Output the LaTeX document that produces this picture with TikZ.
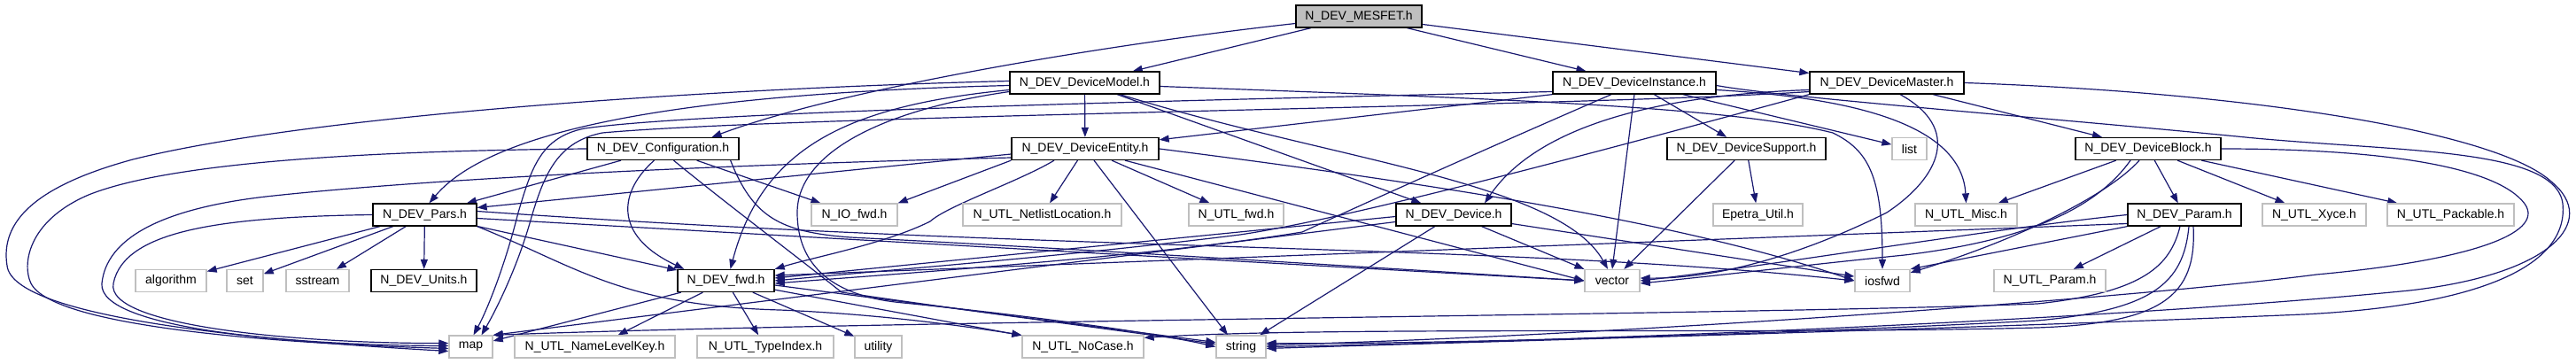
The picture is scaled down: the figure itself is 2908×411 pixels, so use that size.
\documentclass[tikz,border=0pt]{standalone}
\usepackage{fontspec}
\setmainfont{Liberation Sans}
\usetikzlibrary{arrows.meta}
\definecolor{edgeblue}{HTML}{191970}
\definecolor{extgray}{HTML}{BFBFBF}
\definecolor{rootfill}{HTML}{BFBFBF}
\pgfdeclarelayer{bglayer}
\pgfdeclarelayer{edgelayer}
\pgfsetlayers{bglayer,edgelayer,main}
\begin{document}
\begin{tikzpicture}[x=1pt,y=-1pt,
  box/.style={rectangle, line width=1.3pt, fill=white, minimum height=25pt, inner sep=0pt, font=\fontsize{14pt}{16pt}\selectfont, text=black},
  intbox/.style={box, draw=black},
  extbox/.style={box, draw=extgray},
  rootbox/.style={box, draw=black, fill=rootfill},
  dep/.style={draw=edgeblue, line width=1.2pt, -{Triangle[length=11pt,width=8pt]}}]
\begin{pgfonlayer}{bglayer}
\fill[white] (0,0) rectangle (2908,411);
\end{pgfonlayer}
\useasboundingbox (0,0) rectangle (2908,411);

% nodes
\node[rootbox, minimum width=142pt] (mesfet) at (1534,18.5) {N\_DEV\_MESFET.h};
\node[intbox, minimum width=169pt] (model) at (1224.5,93.5) {N\_DEV\_DeviceModel.h};
\node[intbox, minimum width=184pt] (inst) at (1845,93.5) {N\_DEV\_DeviceInstance.h};
\node[intbox, minimum width=174pt] (master) at (2130,93.5) {N\_DEV\_DeviceMaster.h};
\node[intbox, minimum width=171pt] (config) at (748.5,168) {N\_DEV\_Configuration.h};
\node[intbox, minimum width=166pt] (entity) at (1225,168) {N\_DEV\_DeviceEntity.h};
\node[intbox, minimum width=179pt] (support) at (1971.5,168) {N\_DEV\_DeviceSupport.h};
\node[extbox, minimum width=39pt] (list) at (2155.5,168) {list};
\node[intbox, minimum width=164pt] (block) at (2425,168) {N\_DEV\_DeviceBlock.h};
\node[intbox, minimum width=117pt] (pars) at (479.5,242.5) {N\_DEV\_Pars.h};
\node[extbox, minimum width=97pt] (iofwd) at (964.5,242.5) {N\_IO\_fwd.h};
\node[extbox, minimum width=179pt] (netlist) at (1176.5,242.5) {N\_UTL\_NetlistLocation.h};
\node[extbox, minimum width=107pt] (utlfwd) at (1395.5,242.5) {N\_UTL\_fwd.h};
\node[intbox, minimum width=130pt] (device) at (1641,242.5) {N\_DEV\_Device.h};
\node[extbox, minimum width=101pt] (epetra) at (1984.5,242.5) {Epetra\_Util.h};
\node[extbox, minimum width=115pt] (misc) at (2219.5,242.5) {N\_UTL\_Misc.h};
\node[intbox, minimum width=128pt] (param) at (2466,242.5) {N\_DEV\_Param.h};
\node[extbox, minimum width=117pt] (xyce) at (2612.5,242.5) {N\_UTL\_Xyce.h};
\node[extbox, minimum width=143pt] (packable) at (2766.5,242.5) {N\_UTL\_Packable.h};
\node[extbox, minimum width=80pt] (algorithm) at (193,317) {algorithm};
\node[extbox, minimum width=41pt] (set) at (276.5,317) {set};
\node[extbox, minimum width=71pt] (sstream) at (358.5,317) {sstream};
\node[intbox, minimum width=119pt] (units) at (478.5,317) {N\_DEV\_Units.h};
\node[intbox, minimum width=109pt] (devfwd) at (819.5,317) {N\_DEV\_fwd.h};
\node[extbox, minimum width=62pt] (vector) at (1820,317) {vector};
\node[extbox, minimum width=62pt] (iosfwd) at (2125,317) {iosfwd};
\node[extbox, minimum width=126pt] (utlparam) at (2314,317) {N\_UTL\_Param.h};
\node[extbox, minimum width=49pt] (map) at (531.5,391.5) {map};
\node[extbox, minimum width=181pt] (namelevel) at (671.5,391.5) {N\_UTL\_NameLevelKey.h};
\node[extbox, minimum width=154pt] (typeindex) at (864,391.5) {N\_UTL\_TypeIndex.h};
\node[extbox, minimum width=53pt] (utility) at (991.5,391.5) {utility};
\node[extbox, minimum width=137pt] (nocase) at (1222.5,391.5) {N\_UTL\_NoCase.h};
\node[extbox, minimum width=56pt] (string) at (1401,391.5) {string};

\begin{pgfonlayer}{edgelayer}
% MESFET
\draw[dep] ([yshift=-8pt]mesfet.west) .. controls (1250,50) and (950,100) .. ([xshift=55pt]config.north);
\draw[dep] (mesfet) -- (model);
\draw[dep] (mesfet) -- (inst);
\draw[dep] (mesfet) -- (master);
% DeviceModel
\draw[dep] (model) -- (entity);
\draw[dep] ([yshift=-3pt]model.west) .. controls (800,105) and (560,140) .. ([xshift=5pt]pars.north);
\draw[dep] ([yshift=2pt]model.west) .. controls (800,100) and (350,130) .. (150,180) .. controls (40,210) and (0,250) .. (8,300) .. controls (15,360) and (300,385) .. ([yshift=-5pt]map.west);
\draw[dep] ([yshift=-8pt]model.west) .. controls (950,120) and (860,170) .. ([xshift=5pt]devfwd.north);
\draw[dep] (model) -- (device);
\draw[dep] ([xshift=40pt]model.south) .. controls (1500,180) and (1760,205) .. ([xshift=-5pt]vector.north);
\draw[dep] ([yshift=-4pt]model.east) .. controls (1700,112) and (1950,120) .. (2069,150) .. controls (2110,170) and (2125,200) .. (iosfwd.north);
\draw[dep] ([yshift=-10pt]model.west) .. controls (990,125) and (900,175) .. (900,240) .. controls (900,300) and (940,335) .. (1020,342) .. controls (1150,355) and (1300,375) .. (string.west);
% DeviceInstance
\draw[dep] (inst.south west) -- ([yshift=-3pt]entity.north east);
\draw[dep] (inst) -- (support);
\draw[dep] (inst) -- (list);
\draw[dep] (inst.south) -- (vector.north);
\draw[dep] ([xshift=-26pt]inst.south) .. controls (1650,180) and (1540,230) .. (1470,262) .. controls (1300,290) and (1000,310) .. ([yshift=-3pt]devfwd.east);
\draw[dep] ([yshift=-10pt]inst.west) .. controls (1400,112) and (800,125) .. (660,145) .. controls (610,155) and (600,190) .. (585,240) .. controls (570,300) and (550,350) .. ([xshift=3pt]map.north);
\draw[dep] ([yshift=-8pt]inst.east) .. controls (2120,112) and (2215,150) .. (misc.north);
\draw[dep] ([yshift=-3pt]inst.east) .. controls (2010,110) and (2300,132) .. (2525,154) .. controls (2700,172) and (2885,165) .. (2893,230) .. controls (2900,300) and (2800,345) .. (2600,355) .. controls (2200,372) and (1700,385) .. ([yshift=-2pt]string.east);
% DeviceMaster
\draw[dep] (master) -- (block);
\draw[dep] ([yshift=-8pt]master.west) .. controls (1850,108) and (1730,150) .. ([xshift=35pt]device.north);
\draw[dep] (master.south west) .. controls (1700,200) and (1500,250) .. (1400,265) .. controls (1200,290) and (1000,305) .. (devfwd.east);
\draw[dep] ([yshift=-10pt]master.west) .. controls (1800,120) and (900,130) .. (680,150) .. controls (630,160) and (615,195) .. (600,245) .. controls (585,300) and (560,350) .. ([xshift=12pt]map.north);
\draw[dep] ([xshift=15pt]master.south) .. controls (2215,145) and (2190,200) .. (2130,240) .. controls (2050,280) and (1950,315) .. ([yshift=3pt]vector.east);
\draw[dep] (master.east) .. controls (2550,105) and (2820,150) .. (2880,205) .. controls (2935,250) and (2880,310) .. (2720,328) .. controls (2400,360) and (1800,385) .. (string.east);
% Configuration
\draw[dep] (config.west) .. controls (450,170) and (200,180) .. (100,220) .. controls (30,250) and (25,300) .. (35,320) .. controls (60,370) and (320,388) .. ([yshift=-2pt]map.west);
\draw[dep] (config) -- (pars);
\draw[dep] ([xshift=-10pt]config.south) .. controls (700,215) and (690,265) .. ([xshift=8pt]devfwd.north west);
\draw[dep] ([xshift=12pt]config.south) .. controls (820,230) and (900,290) .. (950,330) .. controls (1100,352) and (1300,378) .. ([yshift=3pt]string.west);
\draw[dep] ([xshift=-10pt]config.south east) .. controls (850,245) and (880,262) .. (960,268) .. controls (1200,280) and (1600,305) .. (vector.west);
\draw[dep] (config) -- (iofwd);
% DeviceEntity
\draw[dep] ([yshift=-6pt]entity.west) -- ([yshift=8pt]pars.east);
\draw[dep] ([yshift=-10pt]entity.west) .. controls (850,185) and (500,200) .. (300,222) .. controls (180,236) and (120,270) .. (115,320) .. controls (110,372) and (340,390) .. ([yshift=1pt]map.west);
\draw[dep] ([xshift=-35pt]entity.south) .. controls (1150,205) and (1070,232) .. (1050,250) .. controls (1000,275) and (920,290) .. (devfwd.north east);
\draw[dep] (entity.south west) -- (iofwd.north east);
\draw[dep] (entity) -- (netlist);
\draw[dep] (entity) -- (utlfwd);
\draw[dep] ([xshift=10pt]entity.south) -- ([xshift=-15pt]string.north);
\draw[dep] ([xshift=45pt]entity.south) -- (vector.west);
\draw[dep] (entity.east) .. controls (1600,205) and (1900,250) .. (iosfwd.west);
% Pars
\draw[dep] (pars.west) .. controls (250,245) and (140,260) .. (128,320) .. controls (118,370) and (350,388) .. ([yshift=4pt]map.west);
\draw[dep] (pars) -- (algorithm);
\draw[dep] (pars) -- (set);
\draw[dep] (pars) -- (sstream);
\draw[dep] (pars) -- (units);
\draw[dep] (pars) -- (devfwd);
\draw[dep] ([yshift=-4pt]pars.east) -- (vector.west);
\draw[dep] ([yshift=4pt]pars.east) .. controls (1200,285) and (1700,275) .. (iosfwd.west);
\draw[dep] (pars.south east) .. controls (650,300) and (700,345) .. (880,350) .. controls (1000,355) and (1100,370) .. (nocase.north west);
% Device
\draw[dep] ([yshift=-8pt]device.west) -- (map.north east);
\draw[dep] ([yshift=-2pt]device.west) -- ([yshift=3pt]devfwd.east);
\draw[dep] (device) -- (string);
\draw[dep] (device) -- (vector);
\draw[dep] (device) -- (iosfwd);
% DeviceSupport
\draw[dep] (support) -- (epetra);
\draw[dep] (support) -- (vector);
% DeviceBlock
\draw[dep] (block) -- (misc);
\draw[dep] (block) -- (param);
\draw[dep] (block) -- (xyce);
\draw[dep] (block) -- (packable);
\draw[dep] (block.east) .. controls (2700,168) and (2820,190) .. (2850,230) .. controls (2875,265) and (2780,295) .. (2615,310) .. controls (2400,338) and (1800,380) .. ([yshift=2pt]string.east);
\draw[dep] ([xshift=-20pt]block.south) .. controls (2370,230) and (2300,270) .. (2150,288) .. controls (2050,298) and (1950,310) .. ([yshift=-3pt]vector.east);
\draw[dep] ([xshift=-10pt]block.south) .. controls (2380,220) and (2280,270) .. ([yshift=-4pt]iosfwd.north east);
% Param
\draw[dep] (param.west) .. controls (2250,258) and (2000,300) .. (vector.east);
\draw[dep] ([yshift=-10pt]param.west) -- ([yshift=6pt]devfwd.east);
\draw[dep] (param.south west) -- (iosfwd.north east);
\draw[dep] (param) -- (utlparam);
\draw[dep] ([xshift=-5pt]param.south) .. controls (2450,300) and (2420,330) .. (2300,343) .. controls (2000,355) and (1000,362) .. (map.north east);
\draw[dep] ([xshift=5pt]param.south) .. controls (2465,320) and (2430,350) .. (2300,362) .. controls (2000,378) and (1600,389) .. ([yshift=4pt]string.east);
\draw[dep] ([xshift=10pt]param.south) .. controls (2480,335) and (2440,365) .. (2300,370) .. controls (2000,378) and (1500,368) .. ([yshift=-3pt]nocase.north east);
% N_DEV_fwd
\draw[dep] (devfwd) -- (map);
\draw[dep] (devfwd) -- (namelevel);
\draw[dep] (devfwd) -- (typeindex);
\draw[dep] (devfwd) -- (utility);
\draw[dep] (devfwd) -- (nocase);
\draw[dep] ([yshift=-5pt]devfwd.east) -- ([yshift=5pt]string.west);
\end{pgfonlayer}
\end{tikzpicture}
\end{document}
